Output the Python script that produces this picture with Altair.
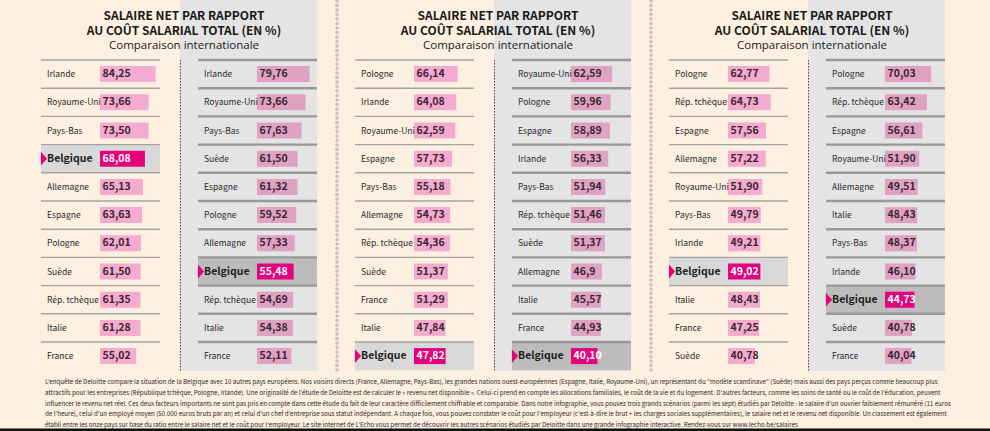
import altair as alt
import pandas as pd

# ---------------- data ----------------
p1_left_countries = ["Irlande", "Royaume-Uni", "Pays-Bas", "Belgique", "Allemagne", "Espagne",
                     "Pologne", "Suède", "Rép. tchèque", "Italie", "France"]
p1_left_values = ["84,25", "73,66", "73,50", "68,08", "65,13", "63,63", "62,01", "61,50", "61,35", "61,28", "55,02"]

p1_right_countries = ["Irlande", "Royaume-Uni", "Pays-Bas", "Suède", "Espagne", "Pologne",
                      "Allemagne", "Belgique", "Rép. tchèque", "Italie", "France"]
p1_right_values = ["79,76", "73,66", "67,63", "61,50", "61,32", "59,52", "57,33", "55,48", "54,69", "54,38", "52,11"]

p2_left_countries = ["Pologne", "Irlande", "Royaume-Uni", "Espagne", "Pays-Bas", "Allemagne",
                     "Rép. tchèque", "Suède", "France", "Italie", "Belgique"]
p2_left_values = ["66,14", "64,08", "62,59", "57,73", "55,18", "54,73", "54,36", "51,37", "51,29", "47,84", "47,82"]

p2_right_countries = ["Royaume-Uni", "Pologne", "Espagne", "Irlande", "Pays-Bas", "Rép. tchèque",
                      "Suède", "Allemagne", "Italie", "France", "Belgique"]
p2_right_values = ["62,59", "59,96", "58,89", "56,33", "51,94", "51,46", "51,37", "46,9", "45,57", "44,93", "40,10"]

p3_left_countries = ["Pologne", "Rép. tchèque", "Espagne", "Allemagne", "Royaume-Uni", "Pays-Bas",
                     "Irlande", "Belgique", "Italie", "France", "Suède"]
p3_left_values = ["62,77", "64,73", "57,56", "57,22", "51,90", "49,79", "49,21", "49,02", "48,43", "47,25", "40,78"]

p3_right_countries = ["Pologne", "Rép. tchèque", "Espagne", "Royaume-Uni", "Allemagne", "Italie",
                      "Pays-Bas", "Irlande", "Belgique", "Suède", "France"]
p3_right_values = ["70,03", "63,42", "56,61", "51,90", "49,51", "48,43", "48,37", "46,10", "44,73", "40,78", "40,04"]

title_line1 = "SALAIRE NET PAR RAPPORT"
title_line2 = "AU COÛT SALARIAL TOTAL (EN %)"
subtitle = "Comparaison internationale"

footer_lines = [
    "L'enquête de Deloitte compare la situation de la Belgique avec 10 autres pays européens. Nos voisins directs (France, Allemagne, Pays-Bas), les grandes nations ouest-européennes (Espagne, Italie, Royaume-Uni), un représentant du \"modèle scandinave\" (Suède) mais aussi des pays perçus comme beaucoup plus",
    "attractifs pour les entreprises (République tchèque, Pologne, Irlande). Une originalité de l'étude de Deloitte est de calculer le « revenu net disponible ». Celui-ci prend en compte les allocations familiales, le coût de la vie et du logement. D'autres facteurs, comme les soins de santé ou le coût de l'éducation, peuvent",
    "influencer le revenu net réel. Ces deux facteurs importants ne sont pas pris en compte dans cette étude du fait de leur caractère difficilement chiffrable et comparable. Dans notre infographie, vous pouvez trois grands scénarios (parmi les sept) étudiés par Deloitte : le salaire d'un ouvrier faiblement rémunéré (11 euros",
    "de l'heure), celui d'un employé moyen (50.000 euros bruts par an) et celui d'un chef d'entreprise sous statut indépendant. A chaque fois, vous pouvez constater le coût pour l'employeur (c'est-à-dire le brut + les charges sociales supplémentaires), le salaire net et le revenu net disponible. Un classement est également",
    "établi entre les onze pays sur base du ratio entre le salaire net et le coût pour l'employeur. Le site internet de L'Echo vous permet de découvrir les autres scénarios étudiés par Deloitte dans une grande infographie interactive. Rendez-vous sur www.lecho.be/salaires",
]

columns = [
    (0, 0, p1_left_countries, p1_left_values),
    (0, 1, p1_right_countries, p1_right_values),
    (1, 0, p2_left_countries, p2_left_values),
    (1, 1, p2_right_countries, p2_right_values),
    (2, 0, p3_left_countries, p3_left_values),
    (2, 1, p3_right_countries, p3_right_values),
]
rows = []
for p, c, names, vals in columns:
    for r, (n, v) in enumerate(zip(names, vals)):
        rows.append(dict(panel=p, col=c, rank=r, country=n, label=v,
                         value=float(v.replace(",", "."))))
df = pd.DataFrame(rows)

panels_df = pd.DataFrame({"panel": [0, 1, 2]})
seps_df = pd.DataFrame({"sep": [1, 2]})
footer_df = pd.DataFrame({"line": list(range(len(footer_lines))), "text": footer_lines})

# ---------------- layout ----------------
W, H = 990, 431
PANEL_DX, COL_DX = 314, 157
ROW0, ROW_H = 60, 28.2
BAR_K = 0.66
COND = "Noto Sans CJK SC, Liberation Sans, sans-serif"

xs = alt.Scale(domain=[0, W], nice=False, zero=False)
ys = alt.Scale(domain=[0, H], nice=False, zero=False, reverse=True)


def X(f):
    return alt.X(f, type="quantitative", scale=xs, axis=None)


def Y(f):
    return alt.Y(f, type="quantitative", scale=ys, axis=None)


base = alt.Chart(df).transform_calculate(
    xoff=f"datum.panel*{PANEL_DX} + datum.col*{COL_DX}",
    ytop=f"{ROW0} + datum.rank*{ROW_H}",
    belg="datum.country == 'Belgique'",
).transform_calculate(
    yc=f"datum.ytop + {ROW_H/2}",
    ybot=f"datum.ytop + {ROW_H}",
    lx0="41 + datum.xoff",
    lx1="160 + datum.xoff",
    tx="47 + datum.xoff",
    bx="100 + datum.xoff",
    tri="44 + datum.xoff",
).transform_calculate(
    bx2=f"datum.bx + datum.value*{BAR_K}",
    by0="datum.yc - 8",
    by1="datum.yc + 8",
    vx="datum.bx + 2.5",
    barfill="datum.belg ? '#e5007d' : (datum.col == 0 ? '#f5abcf' : '#e0a2c2')",
    bandfill="datum.col == 0 ? '#d9d9d9' : '#bcbcbc'",
    txtcol="datum.belg ? '#ffffff' : '#3a2630'",
)

# gray right columns
gray = alt.Chart(panels_df).transform_calculate(
    gx0=f"180 + datum.panel*{PANEL_DX}", gx1=f"317 + datum.panel*{PANEL_DX}",
    gy0="0", gy1="371",
).mark_rect(color="#e4e4e4").encode(x=X("gx0"), x2="gx1:Q", y=Y("gy0"), y2="gy1:Q")

# dashed separator between columns
colsep = alt.Chart(panels_df).transform_calculate(
    sx=f"180.5 + datum.panel*{PANEL_DX}", sy0="60", sy1="371",
).mark_rule(color="#4a4a4a", strokeDash=[1.5, 1.5], strokeWidth=1).encode(
    x=X("sx"), y=Y("sy0"), y2="sy1:Q")

# dotted separator between panels
panelsep = alt.Chart(seps_df).transform_calculate(
    sx=f"23 + datum.sep*{PANEL_DX}", sy0="1", sy1="372",
).mark_rule(color="#c4c4c4", strokeDash=[0.1, 4.4], strokeWidth=3.6, strokeCap="round").encode(
    x=X("sx"), y=Y("sy0"), y2="sy1:Q")

band = base.transform_filter("datum.belg").mark_rect().encode(
    x=X("lx0"), x2="lx1:Q", y=Y("ytop"), y2="ybot:Q",
    color=alt.Color("bandfill:N", scale=None))

lines_left = base.transform_filter("datum.col == 0").mark_rule(strokeWidth=1.4, color="#a3a3a3").encode(
    x=X("lx0"), x2="lx1:Q", y=Y("ytop"))
lines_right = base.transform_filter("datum.col == 1").mark_rule(strokeWidth=2.4, color="#989898").encode(
    x=X("lx0"), x2="lx1:Q", y=Y("ytop"))

bars = base.mark_rect().encode(
    x=X("bx"), x2="bx2:Q", y=Y("by0"), y2="by1:Q",
    color=alt.Color("barfill:N", scale=None))

vals = base.mark_text(align="left", baseline="middle", font=COND, fontSize=10.5, fontWeight="bold").encode(
    x=X("vx"), y=Y("yc"), text="label:N", color=alt.Color("txtcol:N", scale=None))

names = base.transform_filter("!datum.belg").mark_text(
    align="left", baseline="middle", font=COND, fontSize=8.5, color="#2a2a2a").encode(
    x=X("tx"), y=Y("yc"), text="country:N")
names_b = base.transform_filter("datum.belg").mark_text(
    align="left", baseline="middle", font=COND, fontSize=10.5, fontWeight="bold", color="#1e1e1e").encode(
    x=X("tx"), y=Y("yc"), text="country:N")

tri = base.transform_filter("datum.belg").mark_point(
    shape="M-0.45,-1L0.45,0L-0.45,1Z", filled=True, size=190, color="#e5007d", opacity=1).encode(
    x=X("tri"), y=Y("yc"))

titles = alt.Chart(panels_df).transform_calculate(
    cx=f"184 + datum.panel*{PANEL_DX}", y1="15.5", y2="31", y3="45.5",
    t1=f"'{title_line1}'", t2=f"'{title_line2}'", t3=f"'{subtitle}'",
)
t1 = titles.mark_text(font=COND, fontSize=12, fontWeight="bold", color="#1a1a1a", baseline="middle").encode(
    x=X("cx"), y=Y("y1"), text="t1:N")
t2 = titles.mark_text(font=COND, fontSize=12, fontWeight="bold", color="#1a1a1a", baseline="middle").encode(
    x=X("cx"), y=Y("y2"), text="t2:N")
t3 = titles.mark_text(font="Open Sans, Noto Sans, sans-serif", fontSize=11.5, color="#1a1a1a", baseline="middle").encode(
    x=X("cx"), y=Y("y3"), text="t3:N")

footer = alt.Chart(footer_df).transform_calculate(
    fx="45", fy="382 + datum.line*10.8",
).mark_text(font=COND, fontSize=6.2, color="#2a2a2a", align="left", baseline="middle").encode(
    x=X("fx"), y=Y("fy"), text="text:N")

bottom = alt.Chart(panels_df.head(1)).transform_calculate(
    x0="0", x1=f"{W}", y0="428.5", y1=f"{H}",
).mark_rect(color="#111111").encode(x=X("x0"), x2="x1:Q", y=Y("y0"), y2="y1:Q")

chart = alt.layer(
    gray, band, lines_left, lines_right, colsep, panelsep, bars, vals, names, names_b, tri,
    t1, t2, t3, footer, bottom,
).properties(
    width=W, height=H, background="#fdf0e1", padding=0,
    autosize=alt.AutoSizeParams(type="none"),
).configure_view(stroke=None)

chart.save("out.html", embed_options={"renderer": "svg", "actions": False})
